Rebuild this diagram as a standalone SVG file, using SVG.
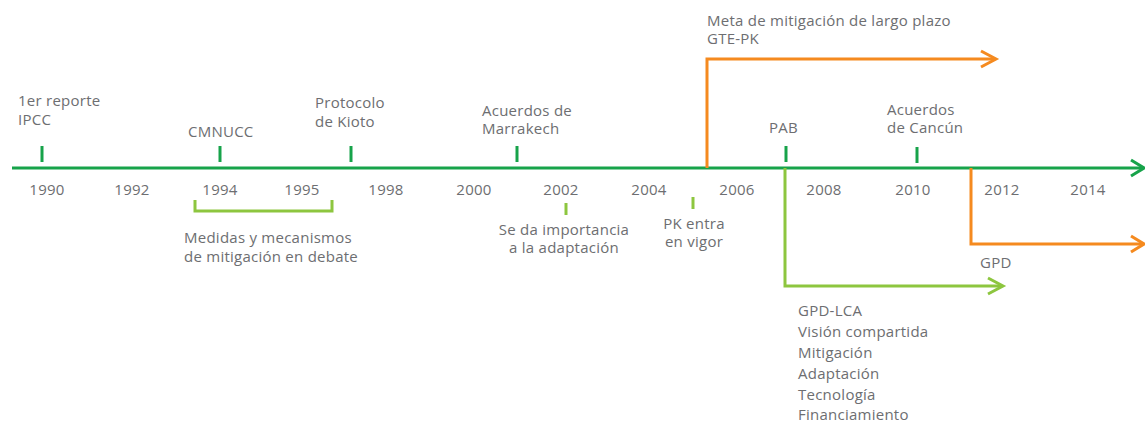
<svg xmlns="http://www.w3.org/2000/svg" width="1145" height="423" viewBox="0 0 1145 423">
<style>
text{font-family:"Open Sans","Liberation Sans",sans-serif;font-size:15px;letter-spacing:0.25px;fill:#6d6e71}
.ax{stroke:#17a34a;stroke-width:3;fill:none}
.lg{stroke:#8dc63f;stroke-width:3;fill:none}
.or{stroke:#f58a1f;stroke-width:3;fill:none}
.m{text-anchor:middle}
</style>
<rect width="1145" height="423" fill="#fff"/>
<g id="connectors">
<line class="ax" x1="12" y1="168" x2="1143" y2="168"/>
<polyline class="ax" points="1131,160 1144,168 1131,176"/>
<path class="or" d="M707,168 V59 H995"/>
<polyline class="or" points="981,51 996,59 981,67"/>
<path class="or" d="M971,168 V244 H1143"/>
<polyline class="or" points="1131,236 1144,244 1131,252"/>
<path class="lg" d="M785,168 V286 H1002"/>
<polyline class="lg" points="988,278 1003,286 988,294"/>
<path class="lg" d="M195,200 V211 H332 V200"/>
</g>
<g id="years">
<text class="m" x="47" y="195">1990</text>
<text class="m" x="132" y="195">1992</text>
<text class="m" x="220" y="195">1994</text>
<text class="m" x="302" y="195">1995</text>
<text class="m" x="386" y="195">1998</text>
<text class="m" x="474" y="195">2000</text>
<text class="m" x="561" y="195">2002</text>
<text class="m" x="649" y="195">2004</text>
<text class="m" x="737" y="195">2006</text>
<text class="m" x="824" y="195">2008</text>
<text class="m" x="913" y="195">2010</text>
<text class="m" x="1002" y="195">2012</text>
<text class="m" x="1088" y="195">2014</text>
</g>
<g id="ipcc">
<line class="ax" x1="42" y1="146" x2="42" y2="162"/>
<text x="18" y="106">1er reporte</text>
<text x="18" y="125">IPCC</text>
</g>
<g id="cmnucc">
<line class="ax" x1="220" y1="146" x2="220" y2="162"/>
<text x="188" y="137">CMNUCC</text>
</g>
<g id="kioto">
<line class="ax" x1="351" y1="146" x2="351" y2="162"/>
<text x="315" y="108">Protocolo</text>
<text x="315" y="127">de Kioto</text>
</g>
<g id="medidas">
<text x="184" y="243">Medidas y mecanismos</text>
<text x="184" y="262">de mitigación en debate</text>
</g>
<g id="marrakech">
<line class="ax" x1="517" y1="146" x2="517" y2="162"/>
<text x="482" y="116">Acuerdos de</text>
<text x="482" y="134">Marrakech</text>
</g>
<g id="adaptacion">
<line class="lg" x1="566" y1="203" x2="566" y2="215"/>
<text class="m" x="564" y="235">Se da importancia</text>
<text class="m" x="564" y="253">a la adaptación</text>
</g>
<g id="pk">
<line class="lg" x1="693" y1="197" x2="693" y2="209"/>
<text class="m" x="694" y="229">PK entra</text>
<text class="m" x="694" y="247">en vigor</text>
</g>
<g id="gtepk">
<text x="707" y="26">Meta de mitigación de largo plazo</text>
<text x="707" y="44">GTE-PK</text>
</g>
<g id="pab">
<line class="ax" x1="786" y1="146" x2="786" y2="162"/>
<text x="769" y="133">PAB</text>
</g>
<g id="cancun">
<line class="ax" x1="917" y1="147" x2="917" y2="163"/>
<text x="887" y="115">Acuerdos</text>
<text x="887" y="133">de Cancún</text>
</g>
<g id="gpd">
<text x="980" y="268">GPD</text>
</g>
<g id="gpdlca">
<text x="798" y="316">GPD-LCA</text>
<text x="798" y="337">Visión compartida</text>
<text x="798" y="358">Mitigación</text>
<text x="798" y="379">Adaptación</text>
<text x="798" y="400">Tecnología</text>
<text x="798" y="420">Financiamiento</text>
</g>
</svg>
